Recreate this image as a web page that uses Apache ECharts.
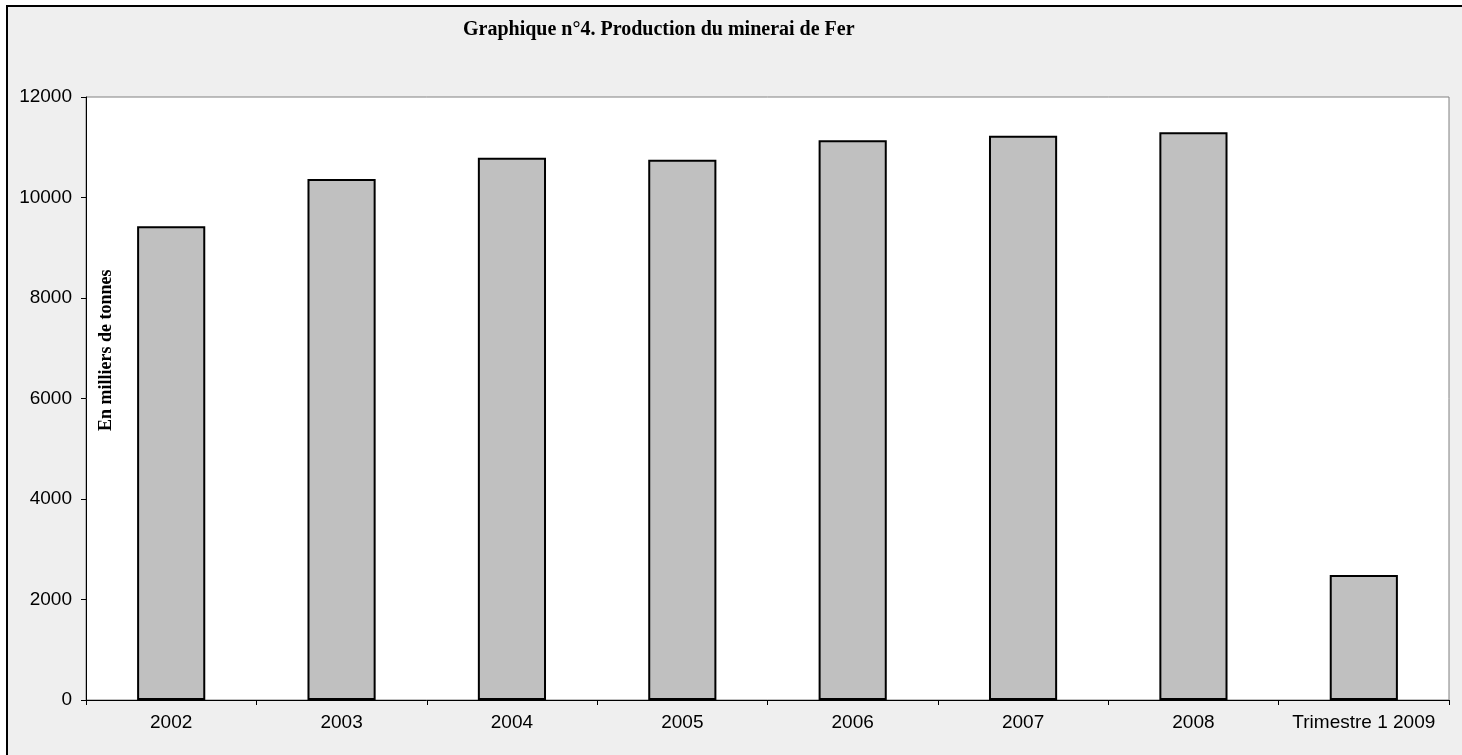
<!DOCTYPE html>
<html>
<head>
<meta charset="utf-8">
<script src="https://cdn.jsdelivr.net/npm/echarts@6/dist/echarts.min.js"></script>
<style>
  html, body { margin: 0; padding: 0; background: #fff; }
  #chart { width: 1462px; height: 755px; }
</style>
</head>
<body>
<div id="chart"></div>
<script>
  // données (en milliers de tonnes)
  const categories = ['2002', '2003', '2004', '2005', '2006', '2007', '2008', 'Trimestre 1 2009'];
  const production = [9430, 10370, 10790, 10750, 11140, 11230, 11300, 2490];
  const yTicks = [0, 2000, 4000, 6000, 8000, 10000, 12000];

  const chartObj = echarts.init(document.getElementById('chart'));
  const option = {
    backgroundColor: '#ffffff',
    animation: false,
    graphic: [
      {
        type: 'rect',
        z: -10,
        shape: { x: 7, y: 6, width: 1470, height: 760 },
        style: { fill: '#efefef', stroke: '#000', lineWidth: 2 }
      },
      {
        type: 'text',
        left: 463,
        top: 20,
        style: {
          text: 'Graphique n°4. Production du minerai de Fer',
          font: 'bold 20px "Liberation Serif", "DejaVu Serif", serif',
          fill: '#000'
        }
      },
      {
        type: 'text',
        x: 97,
        y: 431,
        rotation: Math.PI / 2,
        style: {
          text: 'En milliers de tonnes',
          font: 'bold 18px "Liberation Serif", "DejaVu Serif", serif',
          fill: '#000'
        }
      }
    ],
    grid: {
      left: 86,
      right: 13,
      top: 97,
      bottom: 55,
      show: true,
      backgroundColor: '#ffffff',
      borderColor: '#808080',
      borderWidth: 1
    },
    xAxis: {
      type: 'category',
      data: categories,
      boundaryGap: true,
      axisLine: { lineStyle: { color: '#000', width: 1 } },
      axisTick: { show: true, length: 5, interval: 0, alignWithLabel: false, lineStyle: { color: '#000' } },
      axisLabel: {
        interval: 0,
        hideOverlap: false,
        color: '#000',
        fontSize: 19,
        fontFamily: '"Liberation Sans", Arial, sans-serif',
        margin: 13
      },
      splitLine: { show: false }
    },
    yAxis: {
      type: 'value',
      min: yTicks[0],
      max: yTicks[yTicks.length - 1],
      interval: 2000,
      axisLine: { show: true, lineStyle: { color: '#000', width: 1 } },
      axisTick: { show: true, length: 5, lineStyle: { color: '#000' } },
      axisLabel: {
        color: '#000',
        fontSize: 19,
        fontFamily: '"Liberation Sans", Arial, sans-serif',
        margin: 14,
        formatter: function (v) { return String(v); }
      },
      splitLine: { show: false }
    },
    series: [
      {
        type: 'bar',
        data: production,
        barWidth: '40%',
        itemStyle: {
          color: '#c0c0c0',
          borderColor: '#000',
          borderWidth: 2
        }
      }
    ]
  };
  chartObj.setOption(option);
</script>
</body>
</html>
